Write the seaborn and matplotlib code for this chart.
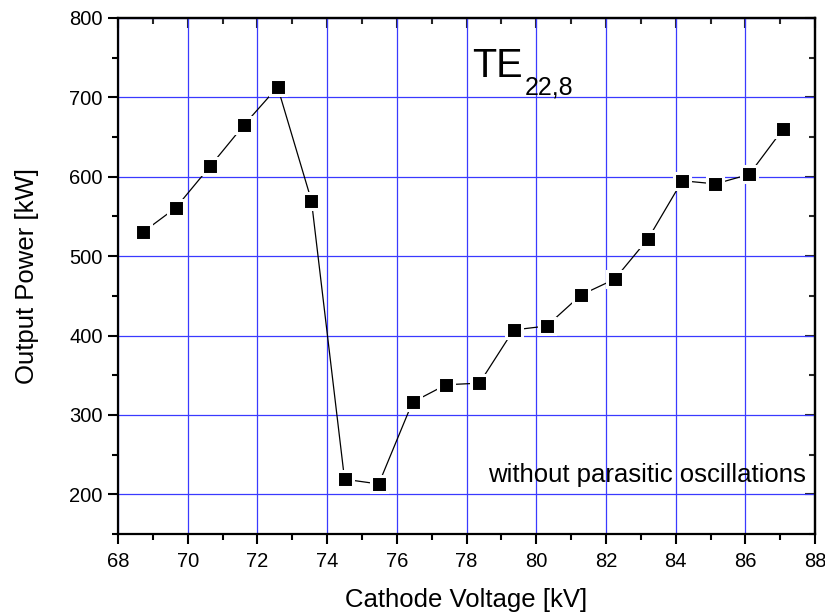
import matplotlib
matplotlib.use("Agg")
import matplotlib.pyplot as plt
from matplotlib.ticker import MultipleLocator
import seaborn as sns
import pandas as pd

# Cathode voltage (kV) and measured output power (kW)
voltage_kv = [68.71, 69.66, 70.64, 71.61, 72.58, 73.55, 74.50, 75.48, 76.45, 77.41,
              78.37, 79.35, 80.30, 81.28, 82.25, 83.21, 84.19, 85.14, 86.11, 87.08]
power_kw = [530, 561, 613, 665, 713, 570, 219, 213, 316, 338,
            340, 407, 412, 451, 471, 522, 595, 591, 603, 660]

x_ticks = [68, 70, 72, 74, 76, 78, 80, 82, 84, 86, 88]
y_ticks = [200, 300, 400, 500, 600, 700, 800]

sns.set_theme(style="white")
plt.rcParams["font.family"] = ["Liberation Sans", "DejaVu Sans"]

df = pd.DataFrame({"voltage": voltage_kv, "power": power_kw})

fig = plt.figure(figsize=(8.25, 6.14), dpi=100)
ax = fig.add_axes([0.143, 0.1303, 0.845, 0.8404])

sns.lineplot(data=df, x="voltage", y="power", sort=False, ax=ax,
             color="black", linewidth=0.9, marker="s", markersize=11,
             markerfacecolor="black", markeredgecolor="white",
             markeredgewidth=2.2, zorder=5)

ax.set_xlim(68, 88)
ax.set_ylim(150, 800)
ax.set_xticks(x_ticks)
ax.set_yticks(y_ticks)
ax.xaxis.set_minor_locator(MultipleLocator(1))
ax.yaxis.set_minor_locator(MultipleLocator(50))

ax.grid(True, which="major", color="#3a3aff", linewidth=0.9, zorder=0)
ax.set_axisbelow(True)

for s in ax.spines.values():
    s.set_color("black")
    s.set_linewidth(1.6)
    s.set_visible(True)

ax.tick_params(axis="both", which="major", direction="out", length=7, width=1.5,
               color="black", labelsize=14.5, labelcolor="black",
               bottom=True, left=True)
ax.tick_params(axis="x", which="major", pad=6)
ax.tick_params(axis="y", which="major", pad=4)
ax.tick_params(axis="both", which="minor", direction="out", length=4, width=1.5,
               color="black", bottom=True, left=True)

# inward ticks on the top and right frame edges
top = ax.secondary_xaxis("top")
top.set_xticks(x_ticks)
top.xaxis.set_minor_locator(MultipleLocator(1))
top.tick_params(which="major", direction="in", length=7, width=1.5, labeltop=False)
top.tick_params(which="minor", direction="in", length=4, width=1.5)
top.spines["top"].set_linewidth(1.6)

right = ax.secondary_yaxis("right")
right.set_yticks(y_ticks)
right.yaxis.set_minor_locator(MultipleLocator(50))
right.tick_params(which="major", direction="in", length=7, width=1.5, labelright=False)
right.tick_params(which="minor", direction="in", length=4, width=1.5)
right.spines["right"].set_linewidth(1.6)

ax.set_xlabel("Cathode Voltage [kV]", fontsize=18.5, color="black", labelpad=12)
ax.set_ylabel("Output Power [kW]", fontsize=18.5, color="black", labelpad=22)

ax.text(78.16, 725.7, "TE", fontsize=28.5, color="black", va="baseline", ha="left")
ax.text(79.68, 703, "22,8", fontsize=18, color="black", va="baseline", ha="left")
ax.text(78.62, 216, "without parasitic oscillations", fontsize=18.5,
        color="black", va="baseline", ha="left")

fig.savefig("out.png", dpi=100)
